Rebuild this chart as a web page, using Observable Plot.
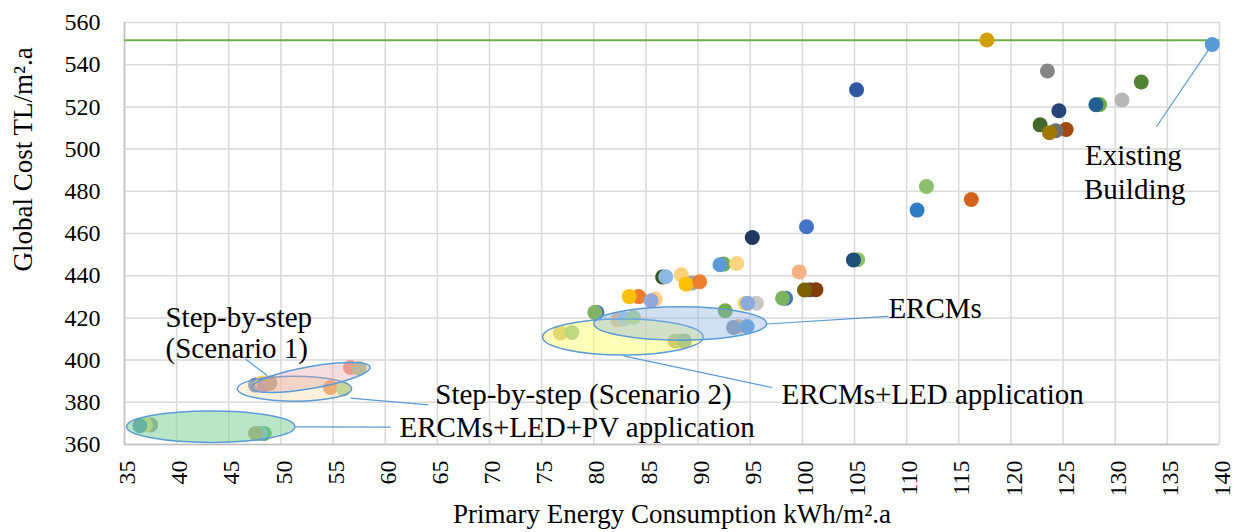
<!DOCTYPE html>
<html>
<head>
<meta charset="utf-8">
<script src="https://cdn.jsdelivr.net/npm/d3@7"></script>
<script src="https://cdn.jsdelivr.net/npm/@observablehq/plot@0.6"></script>
<style>
  html, body { margin: 0; padding: 0; background: #ffffff; }
  #chart { width: 1238px; height: 532px; }
</style>
</head>
<body>
<div id="chart"></div>
<script>
// ---- Data ----
const energy = [
  139.3, 117.7, 123.5, 132.5, 105.2, 130.65, 128.5, 128.15, 124.6, 122.8,
  125.3, 124.3, 123.7, 111.9, 116.2, 111.0, 100.4, 95.2, 105.3, 104.9,
  86.6, 86.9, 88.4, 89.4, 88.85, 90.15, 92.45, 92.1, 93.7, 84.3,
  83.4, 85.9, 85.5, 80.3, 80.1, 82.3, 82.9, 83.8, 76.8, 77.9,
  88.3, 87.8, 88.7, 92.6, 94.5, 95.6, 94.75, 93.9, 93.4, 94.7,
  98.4, 98.1, 99.7, 100.7, 101.3, 100.2,
  47.56, 48.2, 48.4, 48.95, 56.67, 57.5, 54.75, 56.0,
  37.5, 37.0, 36.47, 48.4, 48.0, 47.56
];
const cost = [
  549.6, 551.7, 537.0, 531.8, 528.1, 523.3, 521.1, 521.0, 518.2, 511.5,
  509.3, 508.7, 507.8, 482.3, 476.1, 471.1, 463.2, 458.1, 447.6, 447.5,
  439.4, 439.5, 440.4, 436.5, 436.0, 437.1, 445.5, 445.2, 445.8, 430.1,
  430.1, 428.9, 428.1, 422.6, 422.6, 419.1, 419.5, 420.2, 412.9, 413.1,
  408.9, 409.1, 409.1, 423.4, 426.8, 427.0, 427.0, 415.9, 415.5, 415.9,
  429.3, 429.3, 441.8, 433.3, 433.4, 433.2,
  388.15, 389.1, 388.2, 389.1, 396.5, 396.0, 387.0, 386.3,
  369.3, 369.3, 368.9, 365.2, 365.2, 365.2
];
const alternative = energy.map((_, i) => "Alt " + (i + 1));
const existingCost = [551.6];
const xTicks = [35, 40, 45, 50, 55, 60, 65, 70, 75, 80, 85, 90, 95, 100, 105, 110, 115, 120, 125, 130, 135, 140];
const yTicks = [360, 380, 400, 420, 440, 460, 480, 500, 520, 540, 560];

// ---- Styles ----
const palette = [
  "#5b9bd5", "#d1a000", "#858585", "#548235", "#3057a3", "#b8b8b8", "#70ad47", "#23608f", "#264478", "#43682b",
  "#a5480f", "#6e6e6e", "#a07800", "#8dc06a", "#d4641c", "#2f7dc4", "#4472c4", "#203864", "#8cc168", "#1f4e79",
  "#375623", "#8cb8e3", "#ffd27a", "#a5a5a5", "#ffc000", "#ed7d31", "#70ad47", "#5b9bd5", "#ffd480", "#ed7d31",
  "#ffc000", "#ffd08a", "#95a6d8", "#4472c4", "#82b366", "#f4b183", "#9dc3e6", "#a9d18e", "#c9b87a", "#8fb89a",
  "#f4b183", "#b0a870", "#6fa08a", "#70ad47", "#ffd966", "#c9c9c9", "#8faadc", "#f4b183", "#8497b0", "#5b9bd5",
  "#4472c4", "#7cb361", "#f4b183", "#595959", "#843c0c", "#7f6000",
  "#6f7fae", "#ffc866", "#8e7aa6", "#a08a78", "#f0958a", "#a8c49a", "#f08a5a", "#a9d18e",
  "#8f9a80", "#e8d870", "#4d8fa8", "#4fb060", "#7fb4d8", "#b29a6a"
];

// ---- Annotations ----
const ellipses = [
  {cx: 43.32, cy: 368.2, rx: 8.07, ry: 7.44, angle: 0, fill: "#80d29b", opacity: 0.55},
  {cx: 51.35, cy: 386.2, rx: 5.48, ry: 5.92, angle: 0, fill: "#f5dca8", opacity: 0.4},
  {cx: 52.93, cy: 391.5, rx: 5.75, ry: 5.2, angle: -10, fill: "#e6a0a0", opacity: 0.35},
  {cx: 82.84, cy: 410.7, rx: 7.7, ry: 8.5, angle: 0, fill: "#ffff66", opacity: 0.45},
  {cx: 88.34, cy: 417.1, rx: 8.28, ry: 7.9, angle: 0, fill: "#8db4e2", opacity: 0.4}
];
const leaders = [
  {x1: 139.3, y1: 549.6, x2: 133.95, y2: 510.6},
  {x1: 96.6, y1: 417.1, x2: 108.26, y2: 420.7},
  {x1: 82.85, y1: 402.0, x2: 97.1, y2: 387.0},
  {x1: 56.67, y1: 382.0, x2: 64.15, y2: 378.8},
  {x1: 51.4, y1: 368.4, x2: 60.5, y2: 368.2},
  {x1: 46.6, y1: 400.5, x2: 48.7, y2: 392.6}
];
const labels = [
  {text: "Existing", x: 127.1, y: 497.1},
  {text: "Building", x: 127.0, y: 480.7},
  {text: "ERCMs", x: 108.25, y: 424.2},
  {text: "ERCMs+LED application", x: 98.0, y: 383.7},
  {text: "Step-by-step (Scenario 2)", x: 64.8, y: 383.5},
  {text: "ERCMs+LED+PV application", x: 61.37, y: 368.0},
  {text: "Step-by-step", x: 38.93, y: 420.2},
  {text: "(Scenario 1)", x: 38.93, y: 405.2}
];

const points = energy.map((e, i) => ({energy: e, cost: cost[i], alt: alternative[i]}));

const ellipseLayer = (index, scales) => {
  const {x, y} = scales;
  const g = d3.create("svg:g");
  for (const e of ellipses) {
    const cx = x(e.cx), cy = y(e.cy);
    const rx = x(e.cx + e.rx) - cx, ry = cy - y(e.cy + e.ry);
    g.append("ellipse")
      .attr("cx", cx).attr("cy", cy).attr("rx", rx).attr("ry", ry)
      .attr("transform", `rotate(${e.angle} ${cx} ${cy})`)
      .attr("fill", e.fill).attr("fill-opacity", e.opacity)
      .attr("stroke", "#5b9bd5").attr("stroke-width", 1.5);
  }
  return g.node();
};

const serif = "Liberation Serif";

const chart = Plot.plot({
  width: 1238,
  height: 532,
  marginLeft: 124,
  marginRight: 19,
  marginTop: 22,
  marginBottom: 88,
  style: {fontFamily: serif, fontSize: "24px", color: "#000", background: "#fff", overflow: "visible"},
  x: {domain: [35, 140], axis: null},
  y: {domain: [360, 560], axis: null},
  color: {type: "ordinal", domain: alternative, range: palette},
  marks: [
    Plot.ruleX(xTicks, {stroke: "#d9d9d9", strokeWidth: 1.5}),
    Plot.ruleY(yTicks, {stroke: "#d9d9d9", strokeWidth: 1.5}),
    Plot.ruleX([35], {stroke: "#bfbfbf", strokeWidth: 1.5}),
    Plot.ruleY([360], {stroke: "#bfbfbf", strokeWidth: 1.5}),
    Plot.ruleY(existingCost, {stroke: "#70ad47", strokeWidth: 2}),
    // tick labels
    Plot.text(xTicks, {x: d => d, frameAnchor: "bottom", rotate: -90, textAnchor: "end", lineAnchor: "middle", dy: 16, dx: 3, text: d => String(d), fontSize: 24, fontFamily: serif, fill: "#000"}),
    Plot.text(yTicks, {y: d => d, frameAnchor: "left", textAnchor: "end", lineAnchor: "middle", dx: -24, text: d => String(d), fontSize: 24, fontFamily: serif, fill: "#000"}),
    Plot.dot(points, {x: "energy", y: "cost", r: 7.5, fill: "alt", stroke: "none"}),
    ellipseLayer,
    Plot.link(leaders, {x1: "x1", y1: "y1", x2: "x2", y2: "y2", stroke: "#5b9bd5", strokeWidth: 1.2}),
    Plot.text(labels, {x: "x", y: "y", text: "text", textAnchor: "start", lineAnchor: "middle", fontSize: 29, fontFamily: serif, fill: "#000"}),
    Plot.text(["Primary Energy Consumption kWh/m².a"], {frameAnchor: "bottom", dy: 70, lineAnchor: "middle", fontSize: 27, fontFamily: serif, fill: "#000"}),
    Plot.text(["Global Cost TL/m².a"], {frameAnchor: "left", dx: -101, dy: 38, rotate: -90, lineAnchor: "middle", fontSize: 27, fontFamily: serif, fill: "#000"})
  ]
});
document.getElementById("chart").appendChild(chart);
</script>
</body>
</html>
